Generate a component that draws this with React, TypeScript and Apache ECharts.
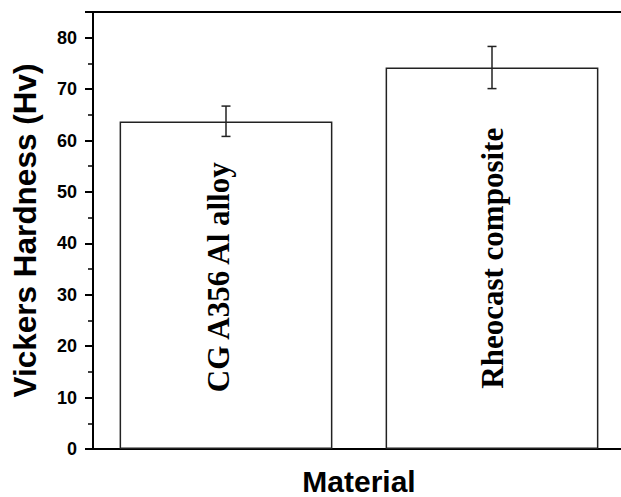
import React, { useEffect, useRef } from "react";
import * as echarts from "echarts";

const categories = ["CG A356 Al alloy", "Rheocast composite"];
const hardness = [63.7, 74.2];
const errorLow = [60.8, 70.1];
const errorHigh = [66.7, 78.3];
const yTickLabels = ["0", "10", "20", "30", "40", "50", "60", "70", "80"];

export default function App() {
  const ref = useRef<HTMLDivElement>(null);
  useEffect(() => {
    if (!ref.current) return;
    const chart = echarts.init(ref.current, null, { renderer: "svg" });
    const errData = categories.map((_, i) => [i, errorLow[i], errorHigh[i]]);
    chart.setOption({
      animation: false,
      backgroundColor: "#ffffff",
      grid: { left: 93, right: -4, top: 12, bottom: 48, containLabel: false, outerBoundsMode: "none" },
      xAxis: [
        {
          type: "category",
          data: categories,
          name: "Material",
          nameLocation: "middle",
          nameGap: 17,
          nameTextStyle: {
            fontFamily: "Liberation Sans",
            fontWeight: "bold",
            fontSize: 30,
            lineHeight: 30,
            color: "#000",
          },
          axisLine: { show: true, lineStyle: { color: "#000", width: 2 } },
          axisTick: { show: false },
          axisLabel: { show: false },
        },
        {
          type: "category",
          data: categories,
          position: "top",
          axisLine: { show: true, lineStyle: { color: "#000", width: 2 } },
          axisTick: { show: false },
          axisLabel: { show: false },
        },
      ],
      yAxis: {
        type: "value",
        min: 0,
        max: 85,
        interval: 10,
        name: "Vickers Hardness (Hv)",
        nameLocation: "middle",
        nameGap: 52,
        nameTextStyle: {
          fontFamily: "Liberation Sans",
          fontWeight: "bold",
          fontSize: 31.5,
          color: "#000",
        },
        axisLine: { show: true, lineStyle: { color: "#000", width: 2 } },
        axisTick: { show: true, length: 8, lineStyle: { color: "#000", width: 2 } },
        minorTick: { show: true, splitNumber: 2, length: 5, lineStyle: { color: "#000", width: 1.5 } },
        splitLine: { show: false },
        axisLabel: {
          margin: 16,
          showMaxLabel: false,
          fontFamily: "Liberation Sans",
          fontWeight: "bold",
          fontSize: 18,
          color: "#000",
          formatter: (v: number) => (yTickLabels.includes(String(v)) ? String(v) : ""),
        },
      },
      series: [
        {
          type: "bar",
          data: hardness.map((v, i) =>
            i === 0 ? { value: v, label: { offset: [8, -8] } } : { value: v }
          ),
          barCategoryGap: "20%",
          itemStyle: { color: "#ffffff", borderColor: "#222", borderWidth: 1.5 },
          label: {
            show: true,
            position: "inside",
            rotate: 90,
            formatter: (p: any) => categories[p.dataIndex],
            fontFamily: "Liberation Serif",
            fontWeight: "bold",
            fontSize: 31,
            color: "#000",
          },
        },
        {
          type: "custom",
          data: errData,
          z: 10,
          renderItem: (params: any, api: any) => {
            const x = api.value(0);
            const lo = api.coord([x, api.value(1)]);
            const hi = api.coord([x, api.value(2)]);
            const w = 4.5;
            const style = { stroke: "#222", lineWidth: 1.5 };
            return {
              type: "group",
              children: [
                { type: "line", shape: { x1: lo[0], y1: lo[1], x2: hi[0], y2: hi[1] }, style },
                { type: "line", shape: { x1: hi[0] - w, y1: hi[1], x2: hi[0] + w, y2: hi[1] }, style },
                { type: "line", shape: { x1: lo[0] - w, y1: lo[1], x2: lo[0] + w, y2: lo[1] }, style },
              ],
            };
          },
        },
      ],
    });
    return () => chart.dispose();
  }, []);
  return (
    <div
      ref={ref}
      style={{ position: "fixed", left: 0, top: 0, width: 621, height: 497, background: "#fff" }}
    />
  );
}
